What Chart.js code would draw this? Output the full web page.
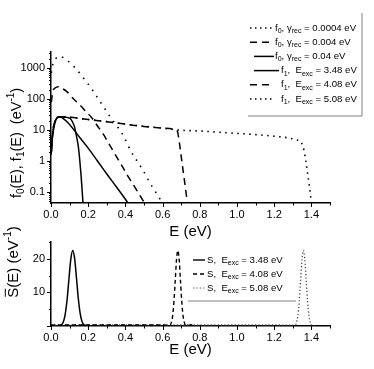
<!DOCTYPE html>
<html><head><meta charset="utf-8">
<script src="https://cdn.jsdelivr.net/npm/chart.js@4.4.0/dist/chart.umd.min.js"></script>
<style>
html,body{margin:0;padding:0;background:#fff;width:374px;height:369px;overflow:hidden;}
#wa{position:absolute;left:0;top:0;width:374px;height:245px;}
#wb{position:absolute;left:0;top:222px;width:374px;height:147px;}
</style></head><body>
<div id="wa"><canvas id="ca"></canvas></div>
<div id="wb"><canvas id="cb"></canvas></div>
<script>
// ---------- data: top panel (log y) ----------
const f0g00004_E = [0.002,0.009,0.025,0.048,0.07,0.09,0.126,0.155,0.183,0.21,0.237,0.26,0.284,0.309,0.345,0.384,0.431,0.488,0.542,0.587,0.62];
const f0g00004_V = [700,1260,2000,2450,2100,1740,1070,676,407,251,145,89,55,32,16,7.4,2.0,0.58,0.155,0.058,0.025];
const f0g0004_E = [0.002,0.01,0.02,0.04,0.06,0.085,0.111,0.138,0.165,0.19,0.219,0.25,0.282,0.31,0.336,0.36,0.384,0.41,0.438,0.47,0.51];
const f0g0004_V = [80,178,224,251,219,174,117,81,56,38,25,13.5,7.2,3.7,2.0,1.15,0.66,0.35,0.19,0.093,0.037];
const f0g004_E = [0.001,0.006,0.012,0.02,0.035,0.05,0.07,0.09,0.12,0.16,0.2,0.25,0.3,0.35,0.4,0.425];
const f0g004_V = [1.6,5.0,8.9,15.8,26.3,26.3,22.4,17.4,10.7,5.2,2.6,1.0,0.38,0.15,0.058,0.035];
const f1e348_E = [0.002,0.01,0.02,0.035,0.05,0.07,0.09,0.102,0.115,0.126,0.137,0.147,0.155,0.162,0.167,0.172,0.176];
const f1e348_V = [2.0,8.9,17.8,25.1,26.9,26.3,25.1,24.0,18.6,12.9,6.3,2.9,1.0,0.32,0.12,0.045,0.02];
const f1e408_E = [0.002,0.01,0.02,0.035,0.05,0.1,0.2,0.3,0.45,0.6,0.67,0.68,0.69,0.70,0.71,0.72,0.73,0.74];
const f1e408_V = [2.0,8.9,17.8,25.1,26.9,25.7,21.9,18.6,14.1,11.5,10.2,8.9,4.0,1.4,0.5,0.18,0.063,0.022];
const f1e508_E = [0.002,0.01,0.02,0.035,0.05,0.1,0.2,0.3,0.45,0.6,0.68,0.8,0.9,1.0,1.1,1.2,1.28,1.32,1.345,1.36,1.37,1.38,1.39,1.398,1.406];
const f1e508_V = [2.0,8.9,17.8,25.1,26.9,25.7,21.9,18.6,14.1,11.5,10.0,9.3,8.5,7.8,7.1,6.3,5.5,4.8,4.0,2.2,1.0,0.38,0.14,0.056,0.022];

// ---------- data: bottom panel ----------
const s348_E = [0.03,0.047,0.057,0.067,0.077,0.087,0.097,0.107,0.117,0.127,0.137,0.147,0.157,0.167,0.177,0.187,0.2,0.25];
const s348_V = [0,0.1,0.4,1.3,3.7,8.1,14.3,20.1,22.5,20.1,14.3,8.1,3.7,1.3,0.4,0.1,0.05,0.05];
const s408_E = [0,0.3,0.6,0.64,0.647,0.654,0.661,0.668,0.675,0.682,0.689,0.696,0.703,0.71,0.717,0.724,0.76];
const s408_V = [0.3,0.3,0.3,0.25,1.0,3.0,7.3,13.6,19.9,22.5,19.9,13.6,7.3,3.0,1.0,0.25,0.3];
const s508_E = [0,0.4,0.8,1.2,1.312,1.3195,1.327,1.3345,1.342,1.3495,1.357,1.3645,1.372,1.3795,1.387,1.3945,1.402,1.42];
const s508_V = [0.3,0.3,0.3,0.3,0.25,1.0,3.0,7.3,13.6,19.9,22.5,19.9,13.6,7.3,3.0,1.0,0.25,0.1];

// ---------- ticks / labels ----------
const xMajorTicks = [0,0.2,0.4,0.6,0.8,1.0,1.2,1.4];
const xMinorTicks = [0.1,0.3,0.5,0.7,0.9,1.1,1.3,1.5];
const yTopLabels = [0.1,1,10,100,1000];
const yTopMinor = [0.05,0.06,0.07,0.08,0.09,0.2,0.3,0.4,0.5,0.6,0.7,0.8,0.9,2,3,4,5,6,7,8,9,20,30,40,50,60,70,80,90,200,300,400,500,600,700,800,900,2000,3000];
const yBotLabels = [10,20];
const yBotMajor = [0,10,20];
const yBotMinor = [5,15,25];
const topLegend = [
  [['f','n'],['0','b'],[', ','n'],['\u03b3','n'],['rec','b'],[' = 0.0004 eV','n']],
  [['f','n'],['0','b'],[', ','n'],['\u03b3','n'],['rec','b'],[' = 0.004 eV','n']],
  [['f','n'],['0','b'],[', ','n'],['\u03b3','n'],['rec','b'],[' = 0.04 eV','n']],
  [['f','n'],['1','b'],[',  ','n'],['E','n'],['exc','b'],[' = 3.48 eV','n']],
  [['f','n'],['1','b'],[',  ','n'],['E','n'],['exc','b'],[' = 4.08 eV','n']],
  [['f','n'],['1','b'],[',  ','n'],['E','n'],['exc','b'],[' = 5.08 eV','n']]
];
const botLegend = [
  [['S','n'],[',  ','n'],['E','n'],['exc','b'],[' = 3.48 eV','n']],
  [['S','n'],[',  ','n'],['E','n'],['exc','b'],[' = 4.08 eV','n']],
  [['S','n'],[',  ','n'],['E','n'],['exc','b'],[' = 5.08 eV','n']]
];
const topYTitle = [['f','n'],['0','b'],['(E), f','n'],['1','b'],['(E)  (eV','n'],['-1','p'],[')','n']];
const botYTitle = [['S','o'],['(E) (eV','n'],['-1','p'],[')','n']];

const FONT = 'Arial, "Liberation Sans", sans-serif';
const pts = (E, V) => E.map((e, i) => ({x: e, y: V[i]}));

function drawRich(ctx, x, y, parts, size, align) {
  const sub = Math.round(size * 0.68);
  let w = 0;
  parts.forEach(([t, k]) => { ctx.font = ((k === 'b' || k === 'p') ? sub : size) + 'px ' + FONT; w += ctx.measureText(t).width; });
  let cx = align === 'center' ? x - w / 2 : x;
  ctx.textBaseline = 'middle'; ctx.textAlign = 'left'; ctx.fillStyle = '#000';
  parts.forEach(([t, k]) => {
    ctx.font = ((k === 'b' || k === 'p') ? sub : size) + 'px ' + FONT;
    const dy = k === 'b' ? size * 0.32 : (k === 'p' ? -size * 0.38 : 0);
    ctx.fillText(t, cx, y + dy);
    const tw = ctx.measureText(t).width;
    if (k === 'o') {
      ctx.strokeStyle = '#000'; ctx.lineWidth = 1; ctx.setLineDash([]);
      ctx.beginPath(); ctx.moveTo(cx + 1, y - size * 0.58); ctx.lineTo(cx + tw - 1, y - size * 0.58); ctx.stroke();
    }
    cx += tw;
  });
}

const decor = {
  id: 'decor',
  afterDraw(chart, args, o) {
    const ctx = chart.ctx, xs = chart.scales.x, ys = chart.scales.y, ca = chart.chartArea;
    ctx.save();
    ctx.strokeStyle = '#000'; ctx.lineWidth = 1; ctx.setLineDash([]);
    const tick = (x0, y0, x1, y1) => { ctx.beginPath(); ctx.moveTo(x0, y0); ctx.lineTo(x1, y1); ctx.stroke(); };
    o.xMajor.forEach(v => { const p = Math.round(xs.getPixelForValue(v)) + 0.5; tick(p, ca.bottom, p, ca.bottom + 4); });
    o.xMinor.forEach(v => { const p = Math.round(xs.getPixelForValue(v)) + 0.5; tick(p, ca.bottom, p, ca.bottom + 2.5); });
    o.yMajor.forEach(v => { const p = Math.round(ys.getPixelForValue(v)) + 0.5; tick(ca.left, p, ca.left - 4, p); });
    o.yMinor.forEach(v => { const p = Math.round(ys.getPixelForValue(v)) + 0.5; tick(ca.left, p, ca.left - 2, p); });
    // y title
    ctx.save();
    ctx.translate(o.yTitle.x, o.yTitle.y); ctx.rotate(-Math.PI / 2);
    drawRich(ctx, 0, 0, o.yTitle.parts, o.yTitle.size, 'center');
    ctx.restore();
    // legend
    o.legend.rows.forEach((r, i) => {
      const y = o.legend.y0 + i * o.legend.dy;
      ctx.strokeStyle = r.color; ctx.lineWidth = r.width; ctx.setLineDash(r.dash);
      ctx.beginPath(); ctx.moveTo(r.x0, y); ctx.lineTo(r.x1, y); ctx.stroke();
      ctx.setLineDash([]);
      drawRich(ctx, r.tx, y, r.parts, o.legend.size, 'left');
    });
    ctx.strokeStyle = '#808080'; ctx.lineWidth = 1; ctx.setLineDash([]);
    o.legend.box.forEach(s => { ctx.beginPath(); ctx.moveTo(s[0], s[1]); ctx.lineTo(s[2], s[3]); ctx.stroke(); });
    ctx.restore();
  }
};

function xScale(h, titleBottomPad) {
  return {
    type: 'linear', min: 0, max: 1.5,
    afterFit: s => { s.height = h; },
    grid: {display: false, drawTicks: false},
    border: {display: true, color: '#000', width: 1.5},
    ticks: {stepSize: 0.2, includeBounds: false, autoSkip: false, maxRotation: 0, padding: 5, color: '#000',
      font: {family: FONT, size: 11}, callback: v => v.toFixed(1)},
    title: {display: true, text: 'E (eV)', color: '#000', font: {family: FONT, size: 15}, padding: {top: 0, bottom: titleBottomPad}}
  };
}
const line = (data, dash, w, color) => ({data, borderColor: color || '#000', borderWidth: w, borderDash: dash,
  pointRadius: 0, fill: false, cubicInterpolationMode: 'monotone'});

new Chart(document.getElementById('ca'), {
  type: 'line',
  data: {datasets: [
    line(pts(f0g00004_E, f0g00004_V), [1.5, 6], 1.6),
    line(pts(f0g0004_E, f0g0004_V), [7, 5], 1.5),
    line(pts(f0g004_E, f0g004_V), [], 1.5),
    line(pts(f1e348_E, f1e348_V), [], 1.5),
    line(pts(f1e408_E, f1e408_V), [7, 5], 1.5),
    line(pts(f1e508_E, f1e508_V), [1.5, 4.5], 1.6)
  ]},
  options: {
    responsive: true, maintainAspectRatio: false, animation: false, devicePixelRatio: 1,
    layout: {padding: {top: 52, right: 44, left: 0, bottom: 0}},
    plugins: {legend: {display: false}, tooltip: {enabled: false},
      decor: {
        xMajor: xMajorTicks, xMinor: xMinorTicks, yMajor: yTopLabels, yMinor: yTopMinor,
        yTitle: {x: 17, y: 143, size: 14.5, parts: topYTitle},
        legend: {y0: 28, dy: 14.2, size: 9.6, box: [[362, 13, 362, 116], [248, 116, 362, 116]],
          rows: [
            {parts: topLegend[0], dash: [1.5, 3.5], width: 1.3, color: '#000', x0: 250, x1: 273, tx: 275},
            {parts: topLegend[1], dash: [7, 5], width: 1.5, color: '#000', x0: 250, x1: 273, tx: 275},
            {parts: topLegend[2], dash: [], width: 1.5, color: '#000', x0: 254, x1: 274, tx: 275},
            {parts: topLegend[3], dash: [], width: 1.5, color: '#000', x0: 254, x1: 279, tx: 281},
            {parts: topLegend[4], dash: [7, 5], width: 1.5, color: '#000', x0: 250, x1: 273, tx: 281},
            {parts: topLegend[5], dash: [1.5, 3.5], width: 1.3, color: '#000', x0: 250, x1: 273, tx: 281}
          ]}
      }},
    scales: {
      x: xScale(42, 4),
      y: {
        type: 'logarithmic', min: 0.044, max: 3300,
        afterFit: s => { s.width = 51; },
        grid: {display: false, drawTicks: false},
        border: {display: true, color: '#000', width: 1.5},
        ticks: {autoSkip: false, padding: 6, color: '#000', font: {family: FONT, size: 11},
          callback: v => { const m = yTopLabels.find(l => Math.abs(v / l - 1) < 1e-6); return m === undefined ? '' : String(m); }}
      }
    }
  },
  plugins: [decor]
});

new Chart(document.getElementById('cb'), {
  type: 'line',
  data: {datasets: [
    line(pts(s348_E, s348_V), [], 1.5),
    line(pts(s408_E, s408_V), [4, 3], 1.4),
    line(pts(s508_E, s508_V), [1.2, 2.2], 1.3, '#444')
  ]},
  options: {
    responsive: true, maintainAspectRatio: false, animation: false, devicePixelRatio: 1,
    layout: {padding: {top: 20, right: 44, left: 0, bottom: 0}},
    plugins: {legend: {display: false}, tooltip: {enabled: false},
      decor: {
        xMajor: xMajorTicks, xMinor: xMinorTicks, yMajor: yBotMajor, yMinor: yBotMinor,
        yTitle: {x: 14, y: 40, size: 15, parts: botYTitle},
        legend: {y0: 38, dy: 14, size: 9.6, box: [[188, 79, 296, 79]],
          rows: [
            {parts: botLegend[0], dash: [], width: 1.4, color: '#000', x0: 193, x1: 205, tx: 207},
            {parts: botLegend[1], dash: [4, 3], width: 1.4, color: '#000', x0: 193, x1: 205, tx: 207},
            {parts: botLegend[2], dash: [1.2, 2.2], width: 1.2, color: '#555', x0: 193, x1: 205, tx: 207}
          ]}
      }},
    scales: {
      x: xScale(43, 10),
      y: {
        type: 'linear', min: 0, max: 25,
        afterFit: s => { s.width = 51; },
        grid: {display: false, drawTicks: false},
        border: {display: true, color: '#000', width: 1.5},
        ticks: {stepSize: 5, autoSkip: false, padding: 6, color: '#000', font: {family: FONT, size: 11},
          callback: v => yBotLabels.includes(v) ? String(v) : ''}
      }
    }
  },
  plugins: [decor]
});
</script>
</body></html>
